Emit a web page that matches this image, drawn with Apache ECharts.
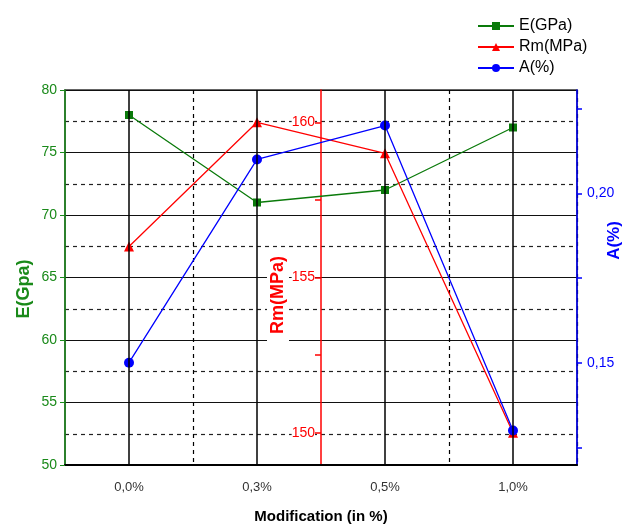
<!DOCTYPE html>
<html>
<head>
<meta charset="utf-8">
<script src="https://cdn.jsdelivr.net/npm/echarts@6/dist/echarts.min.js"></script>
<style>
  html, body { margin: 0; padding: 0; background: #fff; }
  #chart { width: 635px; height: 527px; }
</style>
</head>
<body>
<div id="chart"></div>
<script>
// données
const categories = ['0,0%', '0,3%', '0,5%', '1,0%'];
const moduleE = [78, 71, 72, 77];          // E(GPa)
const resistanceRm = [156, 160, 159, 150]; // Rm(MPa)
const allongementA = [0.15, 0.21, 0.22, 0.13]; // A(%)

const rmTicks = [150, 152.5, 155, 157.5, 160];
const rmLabels = [150, 155, 160];
const aTicks = [0.125, 0.15, 0.175, 0.2, 0.225];
const aLabels = [0.15, 0.2];

const font = 'Liberation Sans, Arial, sans-serif';

const myChart = echarts.init(document.getElementById('chart'));

const option = {
    animation: false,
    textStyle: { fontFamily: font },
    legend: {
        orient: 'vertical',
        left: 472,
        top: 13,
        itemGap: 5,
        itemWidth: 36,
        itemHeight: 10,
        textStyle: { fontSize: 16, color: '#000', fontFamily: font },
        data: ['E(GPa)', 'Rm(MPa)', 'A(%)']
    },
    grid: {
        left: 65,
        right: 58,
        top: 90,
        bottom: 62,
        containLabel: false,
        outerBoundsMode: 'none',
        show: true,
        borderColor: '#333',
        borderWidth: 1.5
    },
    xAxis: {
        type: 'category',
        data: categories,
        boundaryGap: true,
        name: 'Modification (in %)',
        nameLocation: 'middle',
        nameGap: 44,
        nameMoveOverlap: false,
        nameTextStyle: { fontSize: 15, fontWeight: 'bold', color: '#000' },
        axisLine: { lineStyle: { color: '#000', width: 2 } },
        axisTick: { alignWithLabel: true, length: 5, lineStyle: { color: '#000' } },
        axisLabel: { color: '#333', fontSize: 13, margin: 16 },
        splitLine: {
            show: true,
            // pointillés seulement entre 0,0/0,3 et 0,5/1,0 (le milieu = axe Rm)
            interval: function (index) { return index === 1 || index === 3; },
            lineStyle: { color: '#000', type: [4, 4], width: 1.2 }
        }
    },
    yAxis: [
        {
            type: 'value',
            min: 50,
            max: 80,
            interval: 5,
            position: 'left',
            name: 'E(Gpa)',
            nameLocation: 'middle',
            nameGap: 32,
            nameMoveOverlap: false,
            // padding à droite = décale le texte vers le bas
            nameTextStyle: { fontSize: 18, fontWeight: 'bold', color: '#1a8a1a', padding: [0, 23, 0, 0] },
            axisLine: { show: true, lineStyle: { color: '#1a8a1a', width: 1.5 } },
            axisTick: { show: true, length: 5, lineStyle: { color: '#1a8a1a' } },
            axisLabel: { color: '#1a8a1a', fontSize: 14, margin: 8 },
            splitLine: { show: true, lineStyle: { color: '#111', width: 1.2 } },
            minorTick: { show: false, splitNumber: 2 },
            minorSplitLine: { show: true, lineStyle: { color: '#222', type: [4, 4], width: 1.2 } }
        },
        {
            type: 'value',
            min: 148.96,
            max: 161.04,
            position: 'left',
            offset: -256,
            name: '{t|Rm(MPa)}',
            nameLocation: 'middle',
            nameGap: 32,
            nameMoveOverlap: false,
            nameTextStyle: {
                padding: [0, 40, 0, 0],
                rich: {
                    t: {
                        fontSize: 18, fontWeight: 'bold', color: '#ff0000',
                        fontFamily: font, backgroundColor: '#fff', padding: [2, 3, 2, 8]
                    }
                }
            },
            axisLine: { show: true, lineStyle: { color: '#ff0000', width: 1.5 } },
            axisTick: { show: true, length: 6, customValues: rmTicks, lineStyle: { color: '#ff0000', width: 1.5 } },
            axisLabel: {
                color: '#ff0000', fontSize: 14, margin: 6, customValues: rmLabels,
                backgroundColor: '#fff'
            },
            splitLine: { show: false }
        },
        {
            type: 'value',
            min: 0.1198,
            max: 0.2305,
            position: 'right',
            name: 'A(%)',
            nameLocation: 'middle',
            nameGap: 29,
            nameMoveOverlap: false,
            // padding à gauche = décale le texte vers le haut
            nameTextStyle: { fontSize: 17, fontWeight: 'bold', color: '#0000ff', padding: [0, 0, 0, 74] },
            axisLine: { show: true, lineStyle: { color: '#0000ff', width: 1.5 } },
            axisTick: { show: true, length: 5, customValues: aTicks, lineStyle: { color: '#0000ff', width: 1.5 } },
            axisLabel: {
                color: '#0000ff', fontSize: 14, margin: 10, customValues: aLabels,
                formatter: function (v) { return v.toFixed(2).replace('.', ','); }
            },
            splitLine: { show: false }
        }
    ],
    series: [
        {
            name: 'E(GPa)',
            type: 'line',
            yAxisIndex: 0,
            data: moduleE,
            symbol: 'rect',
            symbolSize: 8,
            color: '#0a7a0a',
            lineStyle: { width: 1.3, color: '#0a7a0a' },
            markLine: {
                silent: true,
                symbol: 'none',
                label: { show: false },
                lineStyle: { color: '#000', type: 'solid', width: 1.5 },
                data: categories.map(c => ({ xAxis: c }))
            }
        },
        {
            name: 'Rm(MPa)',
            type: 'line',
            yAxisIndex: 1,
            data: resistanceRm,
            symbol: 'triangle',
            symbolSize: 10,
            color: '#ff0000',
            lineStyle: { width: 1.3, color: '#ff0000' }
        },
        {
            name: 'A(%)',
            type: 'line',
            yAxisIndex: 2,
            data: allongementA,
            symbol: 'circle',
            symbolSize: 10,
            color: '#0000ff',
            lineStyle: { width: 1.3, color: '#0000ff' }
        }
    ]
};

myChart.setOption(option);
</script>
</body>
</html>
